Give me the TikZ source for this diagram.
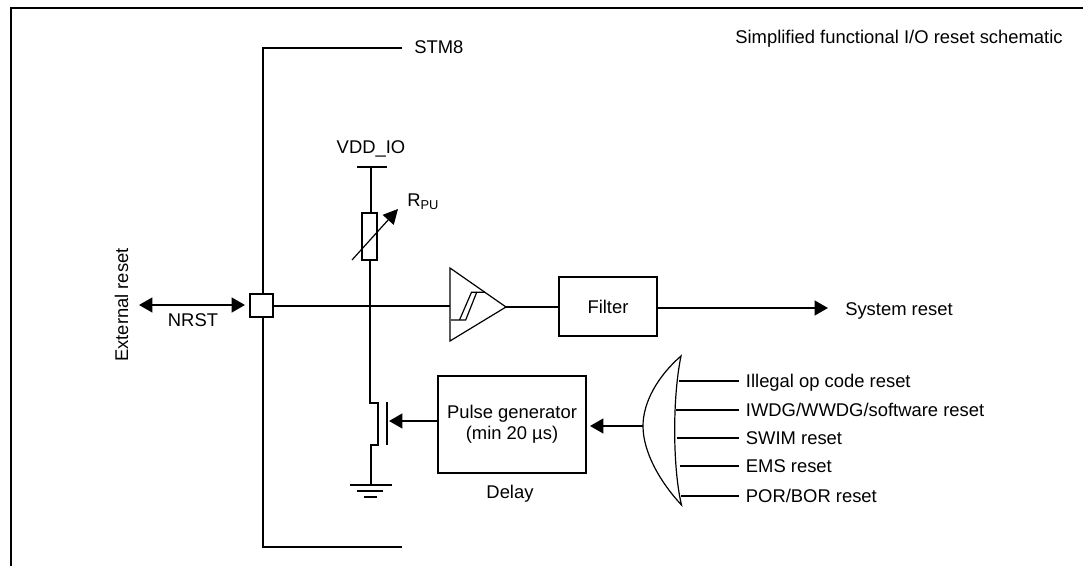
\documentclass[tikz,border=0pt]{standalone}
\usepackage{fontspec}
\setmainfont{Liberation Sans}
\usetikzlibrary{arrows.meta}
\tikzset{
	wire/.style={draw, line width=1.65pt, line cap=butt},
	thinwire/.style={draw, line width=0.9pt},
	tipwire/.style={wire, -{Triangle[length=10pt,width=11pt]}},
	bothwire/.style={wire, {Triangle[length=10pt,width=11pt]}-{Triangle[length=10pt,width=11pt]}},
	label/.style={inner sep=0pt, text height=10pt, text depth=0pt, font=\fontsize{13.8pt}{16pt}\selectfont},
	sourcelabel/.style={label, anchor=west, outer xsep=5.6pt},
	blockbox/.style={draw, line width=1.65pt, fill=white, inner sep=0pt, align=center, font=\fontsize{13.8pt}{15.7pt}\selectfont}
}
\begin{document}
\begin{tikzpicture}[x=0.75pt, y=-0.75pt]
	\useasboundingbox (0,0) rectangle (1083,566);
	\coordinate (framea) at (11,566);
	\coordinate (frameb) at (11,8);
	\coordinate (framec) at (1083,8);
	\coordinate (stma) at (402,48);
	\coordinate (stmb) at (263,48);
	\coordinate (stmc) at (263,547);
	\coordinate (stmd) at (402,547);
	\coordinate (ext) at (139,305);
	\coordinate (vddbara) at (357,167);
	\coordinate (vddbarb) at (387,167);
	\coordinate (vdd) at (371,167);
	\coordinate (joint) at (370,306);
	\coordinate (cmpin) at (450,306);
	\coordinate (cmpout) at (506,307);
	\coordinate (srca) at (370,403);
	\coordinate (srcb) at (378,403);
	\coordinate (srcc) at (378,445);
	\coordinate (srcd) at (371,445);
	\coordinate (gnd) at (371,485);
	\coordinate (gatea) at (387,402);
	\coordinate (gateb) at (387,445);
	\coordinate (gatec) at (389,421);
	\coordinate (orout) at (643,426);
	\coordinate (orin) at (590,426);
	\coordinate (sysout) at (828,308);
	\begin{scope}[every node/.style={label}]
		\node (title) at (899,36.5) {Simplified functional I/O reset schematic};
		\node (stm) [anchor=west] at (414,47) {STM8};
		\node (vddio) at (371,147) {VDD\_IO};
		\node (rpu) [anchor=west] at (407,199.5) {R\textsubscript{PU}};
		\node (extreset) [rotate=90] at (121.5,305) {External reset};
		\node (nrst) at (193,320) {NRST};
		\node (sysreset) [anchor=west] at (845,308.5) {System reset};
		\node (delay) at (510,492) {Delay};
		\node (illegal) [sourcelabel] at (738.5,381) {Illegal op code reset};
		\node (iwdg) [sourcelabel] at (738.5,410) {IWDG/WWDG/software reset};
		\node (swim) [sourcelabel] at (738.5,438) {SWIM reset};
		\node (ems) [sourcelabel] at (738.5,466) {EMS reset};
		\node (por) [sourcelabel] at (738.5,496) {POR/BOR reset};
	\end{scope}
	\begin{scope}[every node/.style={blockbox}]
		\node (pad) [minimum width=17.25pt, minimum height=17.25pt] at (261.5,305.5) {};
		\node (res) [minimum width=11.25pt, minimum height=35.25pt] at (369.5,236.5) {};
		\node (filter) [minimum width=73.5pt, minimum height=44.25pt] at (608,306.5) {Filter};
		\node (pulse) [minimum width=111pt, minimum height=72.75pt] at (512,424.5) {Pulse generator\\(min 20 µs)\\[-12.7pt]};
	\end{scope}
	% frame and package outline
	\path [wire] (framea) -- (frameb) -- (framec);
	\path [wire] (stma) -- (stmb) -- (pad.north -| stmb);
	\path [wire] (stmd) -- (stmc) -- (pad.south -| stmc);
	% input side
	\path [bothwire] (ext) -- (245,305);
	\path [wire] (pad.east |- joint) -- (cmpin);
	\path [wire] (vddbara) -- (vddbarb);
	\path [wire] (vdd) -- (vdd |- res.north);
	\path [wire] (res.south -| joint) -- (joint);
	\path [thinwire, -{Triangle[length=11pt,width=11pt]}] (352,260) -- (398,209);
	% comparator and filter
	\path [thinwire, line join=miter] (450,268) -- (450,341) -- (cmpout) -- cycle;
	\path [thinwire] (451,320) -- (465.7,320) -- (476.7,292.3) -- (485,292.3);
	\path [thinwire] (459.5,320) -- (471.5,292.3) -- (476.7,292.3);
	\path [wire] (cmpout) -- (filter.west |- cmpout);
	\path [tipwire] (filter.east |- sysout) -- (sysout);
	% transistor
	\path [wire] (joint) -- (srca) -- (srcb) -- (srcc) -- (srcd) -- (gnd);
	\path [wire] (gatea) -- (gateb);
	\path [tipwire] (pulse.west |- gatec) -- (gatec);
	\path [wire] (350,485) -- (392,485);
	\path [wire] (357,491) -- (383,491);
	\path [wire] (364,497) -- (377,497);
	% reset sources
	\path [thinwire, fill=white] (681,356) .. controls (658,376) and (643,402) .. (orout) .. controls (643,452) and (660,482) .. (681.5,505) .. controls (673,470) and (672,400) .. cycle;
	\path [tipwire] (orout) -- (orin);
	\path [wire] (679,381) -- (illegal.west);
	\path [wire] (676,410) -- (iwdg.west);
	\path [wire] (677,438) -- (swim.west);
	\path [wire] (680,466) -- (ems.west);
	\path [wire] (681,496) -- (por.west);
\end{tikzpicture}
\end{document}
